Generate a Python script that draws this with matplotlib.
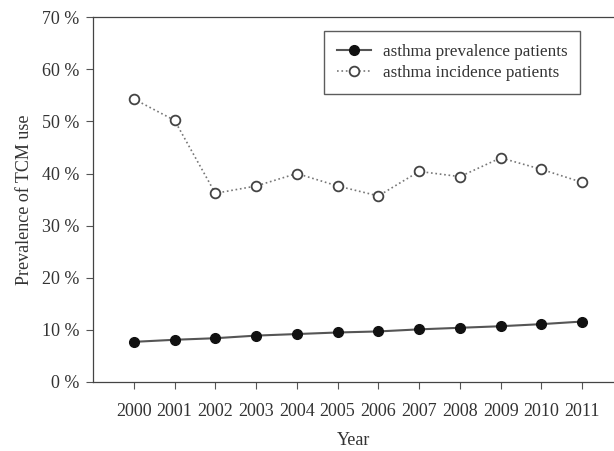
import matplotlib
matplotlib.use('Agg')
from matplotlib import pyplot as plt
from matplotlib.ticker import FuncFormatter

# data
years = [2000, 2001, 2002, 2003, 2004, 2005, 2006, 2007, 2008, 2009, 2010, 2011]
prevalence = [7.7, 8.1, 8.4, 8.9, 9.2, 9.5, 9.7, 10.1, 10.4, 10.7, 11.1, 11.6]
incidence = [54.3, 50.2, 36.2, 37.6, 40.0, 37.6, 35.7, 40.4, 39.4, 43.0, 40.8, 38.3]
y_ticks = [0, 10, 20, 30, 40, 50, 60, 70]

plt.rcParams['font.family'] = ['Liberation Serif', 'DejaVu Serif']
text_col = '#333333'

fig = plt.figure(figsize=(6.14, 4.51), dpi=100)
ax = fig.add_axes([0.1515, 0.153, 0.8485, 0.809])

ax.plot(years, prevalence, '-', color='#555555', lw=1.5, marker='o', ms=7,
        mfc='#111111', mec='#111111', label='asthma prevalence patients')
ax.plot(years, incidence, ':', color='#777777', lw=1.2, marker='o', ms=7,
        mfc='white', mec='#444444', mew=1.3, label='asthma incidence patients')

ax.set_xlim(1999, 2011.78)
ax.set_ylim(0, 70)
ax.set_xticks(years)
ax.set_yticks(y_ticks)
ax.yaxis.set_major_formatter(FuncFormatter(lambda v, p: '%d %%' % v))
ax.tick_params(axis='both', direction='out', length=5, width=0.8,
               colors='#555555', labelcolor=text_col, labelsize=13)
ax.tick_params(axis='x', pad=10)
ax.tick_params(axis='y', pad=5)
ax.spines['right'].set_visible(False)
for s in ['left', 'top', 'bottom']:
    ax.spines[s].set_color('#444444')
    ax.spines[s].set_linewidth(0.9)

ax.set_xlabel('Year', fontsize=13, color=text_col, labelpad=9)
ax.set_ylabel('Prevalence of TCM use', fontsize=13, color=text_col, labelpad=6)

leg = ax.legend(loc='upper right', bbox_to_anchor=(0.935, 0.962), borderaxespad=0,
                fontsize=12.3, frameon=True, fancybox=False, edgecolor='#333333',
                borderpad=0.75, handlelength=2.0, handletextpad=0.7, labelspacing=0.3)
leg.get_frame().set_linewidth(1.0)
for t in leg.get_texts():
    t.set_color(text_col)

fig.savefig('out.png', dpi=100)
